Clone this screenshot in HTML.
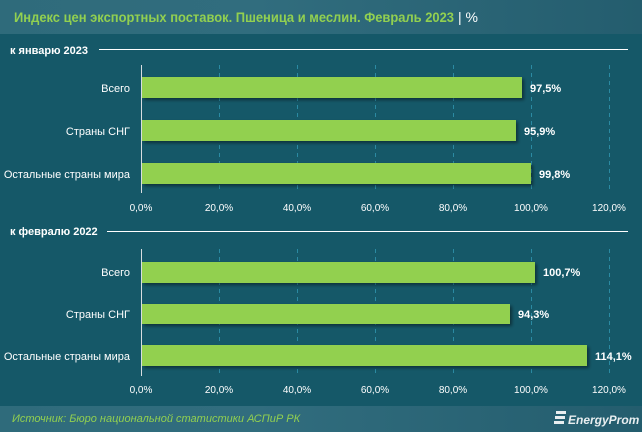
<!DOCTYPE html>
<html><head><meta charset="utf-8"><style>
body{margin:0;width:642px;height:432px;overflow:hidden;background:#155868;font-family:"Liberation Sans","DejaVu Sans",sans-serif;}
</style></head><body>
<svg width="642" height="432" xmlns="http://www.w3.org/2000/svg" style="display:block">
<defs>
<linearGradient id="hg" x1="0" x2="1"><stop offset="0" stop-color="#2f6b7b"/><stop offset="0.4" stop-color="#316d7e"/><stop offset="1" stop-color="#245d6e"/></linearGradient>
<filter id="sh" x="-5%" y="-20%" width="110%" height="160%"><feDropShadow dx="2" dy="2" stdDeviation="1.5" flood-color="#000" flood-opacity="0.45"/></filter>
</defs>
<rect width="642" height="432" fill="#155868"/>
<rect width="642" height="34" fill="url(#hg)"/>
<text x="14" y="22" font-size="14" font-weight="bold" fill="#92d050" textLength="440" lengthAdjust="spacingAndGlyphs">Индекс цен экспортных поставок. Пшеница и меслин. Февраль 2023</text>
<text x="458" y="22" font-size="14" fill="#fff">| %</text>
<rect y="406" width="642" height="26" fill="url(#hg)"/>
<text x="12" y="422" font-size="11" font-style="italic" fill="#92d050">Источник: Бюро национальной статистики АСПиР РК</text>
<g fill="#e8eef0"><rect x="556" y="411" width="10" height="3"/><rect x="555" y="416" width="10" height="3"/><rect x="554" y="421" width="10" height="3"/></g>
<text x="568" y="424" font-size="12" font-weight="bold" font-style="italic" fill="#e8eef0">EnergyProm</text>

<g font-size="11" fill="#fff">
<text x="10" y="54" font-weight="bold">к январю 2023</text>
<line x1="99" y1="49.5" x2="628" y2="49.5" stroke="#fff" stroke-width="1"/>
<text x="10" y="235" font-weight="bold">к февралю 2022</text>
<line x1="107" y1="231.5" x2="628" y2="231.5" stroke="#fff" stroke-width="1"/>
</g>

<g stroke="#2b8aa2" stroke-width="1" stroke-dasharray="4,4">
<line x1="219.5" y1="65" x2="219.5" y2="193"/><line x1="297.5" y1="65" x2="297.5" y2="193"/><line x1="375.5" y1="65" x2="375.5" y2="193"/><line x1="453.5" y1="65" x2="453.5" y2="193"/><line x1="531.5" y1="65" x2="531.5" y2="193"/><line x1="609.5" y1="65" x2="609.5" y2="193"/>
<line x1="219.5" y1="249" x2="219.5" y2="376"/><line x1="297.5" y1="249" x2="297.5" y2="376"/><line x1="375.5" y1="249" x2="375.5" y2="376"/><line x1="453.5" y1="249" x2="453.5" y2="376"/><line x1="531.5" y1="249" x2="531.5" y2="376"/><line x1="609.5" y1="249" x2="609.5" y2="376"/>
</g>

<g fill="#92d050" filter="url(#sh)">
<rect x="142" y="77" width="380" height="21"/>
<rect x="142" y="120" width="374" height="21"/>
<rect x="142" y="163" width="389" height="21"/>
<rect x="142" y="262" width="393" height="21"/>
<rect x="142" y="304" width="368" height="20"/>
<rect x="142" y="345" width="445" height="21"/>
</g>
<g stroke="#d8dde0" stroke-width="1"><line x1="141.5" y1="65" x2="141.5" y2="193"/><line x1="141.5" y1="249" x2="141.5" y2="376"/></g>

<g font-size="11" fill="#fff" text-anchor="end">
<text x="130" y="92">Всего</text><text x="130" y="135">Страны СНГ</text><text x="130" y="178">Остальные страны мира</text>
<text x="130" y="276">Всего</text><text x="130" y="318">Страны СНГ</text><text x="130" y="360">Остальные страны мира</text>
</g>
<g font-size="11" fill="#fff" font-weight="bold">
<text x="530" y="92">97,5%</text><text x="524" y="135">95,9%</text><text x="539" y="178">99,8%</text>
<text x="543" y="276">100,7%</text><text x="518" y="318">94,3%</text><text x="595" y="360">114,1%</text>
</g>
<g font-size="10" fill="#fff" text-anchor="middle">
<text x="141" y="211">0,0%</text><text x="219" y="211">20,0%</text><text x="297" y="211">40,0%</text><text x="375" y="211">60,0%</text><text x="453" y="211">80,0%</text><text x="531" y="211">100,0%</text><text x="609" y="211">120,0%</text>
<text x="141" y="393">0,0%</text><text x="219" y="393">20,0%</text><text x="297" y="393">40,0%</text><text x="375" y="393">60,0%</text><text x="453" y="393">80,0%</text><text x="531" y="393">100,0%</text><text x="609" y="393">120,0%</text>
</g>
</svg>
</body></html>
